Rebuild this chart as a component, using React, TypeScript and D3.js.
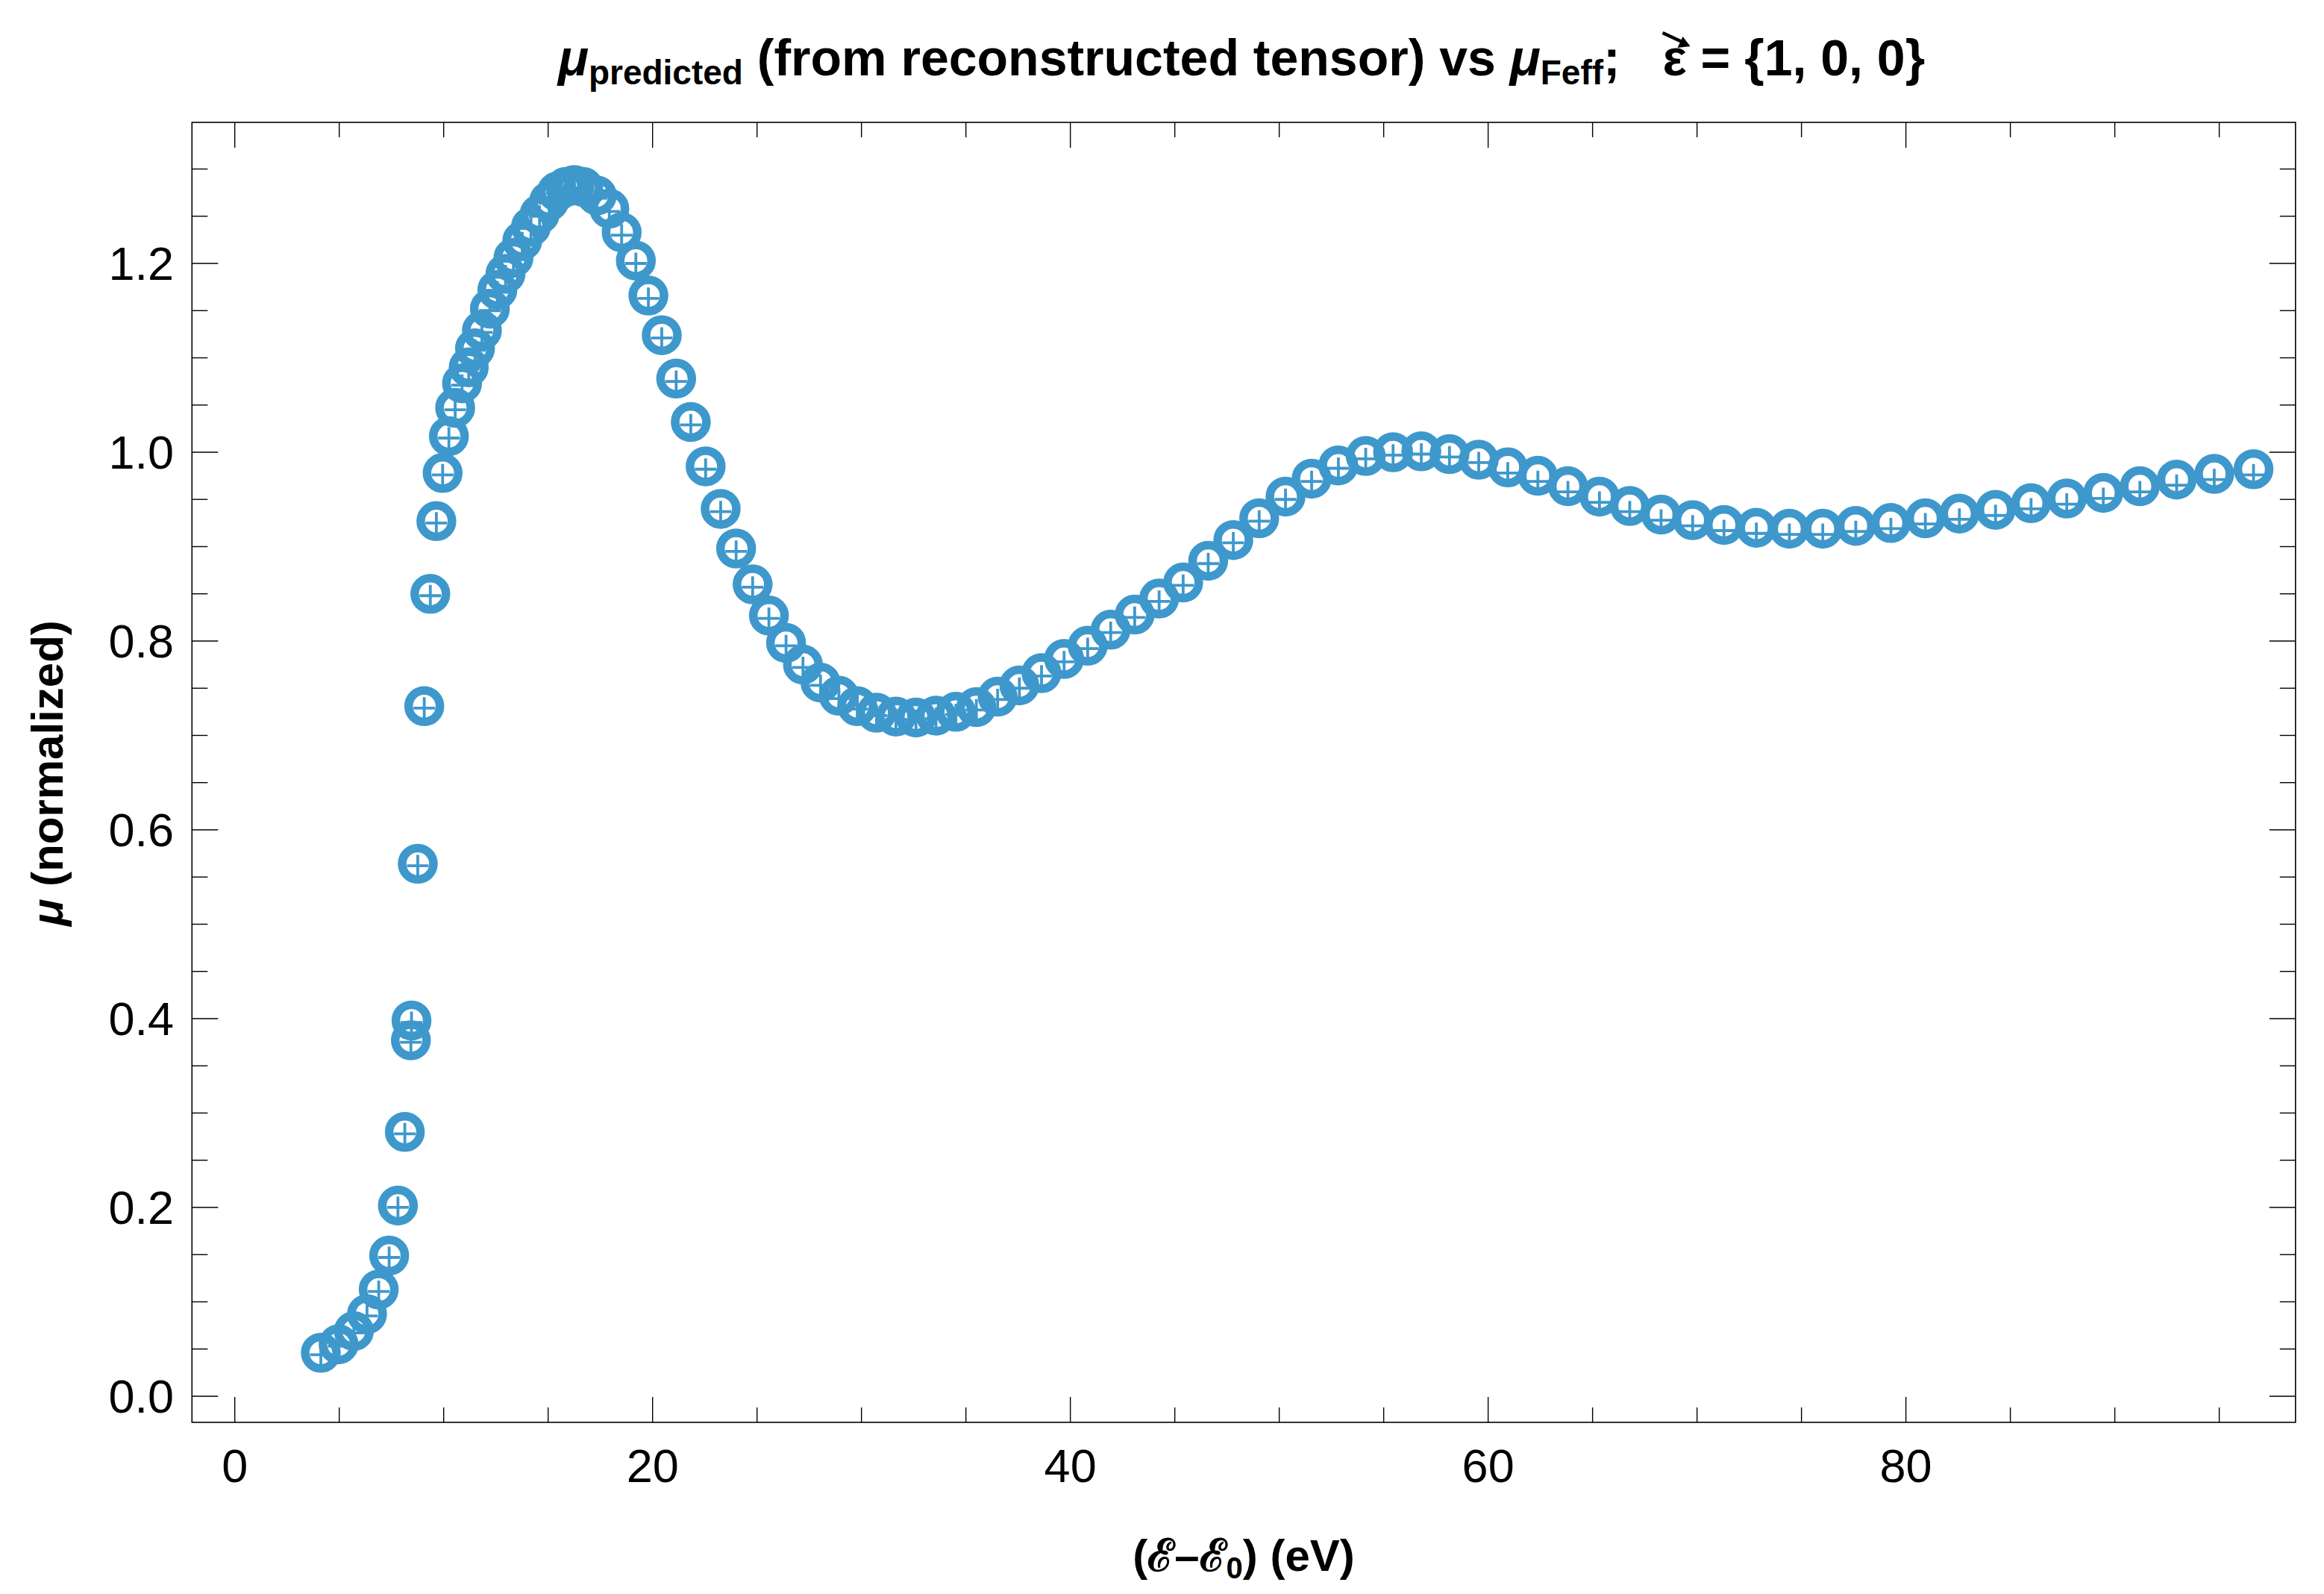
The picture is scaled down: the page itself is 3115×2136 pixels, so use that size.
import React, { useEffect, useRef } from 'react'
import * as d3 from 'd3'

// photon energy above edge (eV)
const energy = [
  4.12, 4.97, 5.70, 6.33, 6.89, 7.39, 7.81, 8.14, 8.43, 8.46,
  8.76, 9.07, 9.36, 9.65, 9.95, 10.25, 10.55, 10.88, 11.2, 11.5,
  11.83, 12.21, 12.57, 12.96, 13.34, 13.76, 14.18, 14.59, 15.05, 15.43,
  15.84, 16.26, 16.68, 17.33, 17.93, 18.52, 19.2, 19.8, 20.44, 21.13,
  21.83, 22.54, 23.26, 24.0, 24.79, 25.57, 26.39, 27.2, 28.04, 28.92,
  29.8, 30.72, 31.65, 32.61, 33.57, 34.52, 35.5, 36.52, 37.56, 38.62,
  39.7, 40.83, 41.93, 43.08, 44.25, 45.4, 46.6, 47.8, 49.04, 50.3,
  51.55, 52.83, 54.14, 55.45, 56.8, 58.15, 59.55, 60.94, 62.38, 63.82,
  65.33, 66.78, 68.28, 69.79, 71.29, 72.84, 74.42, 76.02, 77.6, 79.28,
  80.93, 82.56, 84.29, 85.99, 87.7, 89.45, 91.2, 92.96, 94.76, 96.64,
]

// FEFF reference spectrum (open circles)
const muFeff = [
  0.046, 0.055, 0.069, 0.087, 0.113, 0.149, 0.202, 0.280, 0.377, 0.398,
  0.564, 0.731, 0.850, 0.927, 0.978, 1.017, 1.047, 1.073, 1.090, 1.110,
  1.129, 1.152, 1.172, 1.189, 1.206, 1.224, 1.239, 1.252, 1.266, 1.276,
  1.281, 1.283, 1.281, 1.272, 1.258, 1.233, 1.203, 1.166, 1.124, 1.078,
  1.032, 0.985, 0.940, 0.898, 0.860, 0.827, 0.798, 0.775, 0.756, 0.742,
  0.731, 0.724, 0.720, 0.719, 0.721, 0.725, 0.730, 0.741, 0.753, 0.766,
  0.781, 0.795, 0.812, 0.828, 0.845, 0.862, 0.885, 0.907, 0.930, 0.953,
  0.972, 0.986, 0.996, 1.000, 1.001, 0.998, 0.992, 0.984, 0.975, 0.964,
  0.953, 0.943, 0.934, 0.928, 0.923, 0.920, 0.919, 0.919, 0.922, 0.925,
  0.930, 0.935, 0.939, 0.946, 0.951, 0.957, 0.964, 0.971, 0.977, 0.982,
]

// predicted spectrum (crosses)
const muPredicted = [
  0.044, 0.053, 0.067, 0.085, 0.111, 0.147, 0.200, 0.278, 0.375, 0.396,
  0.562, 0.729, 0.848, 0.925, 0.976, 1.015, 1.045, 1.071, 1.088, 1.108,
  1.127, 1.150, 1.170, 1.187, 1.204, 1.222, 1.237, 1.250, 1.264, 1.274,
  1.278, 1.280, 1.278, 1.269, 1.255, 1.230, 1.200, 1.163, 1.121, 1.075,
  1.029, 0.982, 0.937, 0.895, 0.857, 0.824, 0.795, 0.772, 0.753, 0.739,
  0.728, 0.721, 0.717, 0.716, 0.718, 0.722, 0.727, 0.738, 0.750, 0.763,
  0.778, 0.792, 0.809, 0.825, 0.842, 0.859, 0.882, 0.904, 0.927, 0.950,
  0.969, 0.983, 0.993, 0.997, 0.998, 0.995, 0.989, 0.978, 0.969, 0.958,
  0.947, 0.937, 0.928, 0.922, 0.917, 0.914, 0.913, 0.913, 0.916, 0.919,
  0.924, 0.929, 0.933, 0.940, 0.945, 0.951, 0.958, 0.965, 0.971, 0.976,
]

const xMajorTicks = [0, 20, 40, 60, 80]
const xMinorTicks = [5, 10, 15, 25, 30, 35, 45, 50, 55, 65, 70, 75, 85, 90, 95]
const yMajorTicks = [0, 0.2, 0.4, 0.6, 0.8, 1.0, 1.2]
const yMinorTicks = [0.05, 0.1, 0.15, 0.25, 0.3, 0.35, 0.45, 0.5, 0.55, 0.65, 0.7, 0.75,
  0.85, 0.9, 0.95, 1.05, 1.1, 1.15, 1.25, 1.3]

const W = 3115
const H = 2136
const FONT = "'Liberation Sans', Arial, sans-serif"
const BLUE = '#3e98cc'

const App = () => {
  const svgRef = useRef<SVGSVGElement>(null)

  useEffect(() => {
    const svg: any = d3.select(svgRef.current)
    svg.selectAll('*').remove()

    const left = 257.3, right = 3076.8, top = 164, bottom = 1906
    const x = d3.scaleLinear([-2.05, 98.65], [left, right])
    const y = d3.scaleLinear([-0.0277, 1.3494], [bottom, top])

    // frame
    svg.append('rect')
      .attr('x', left).attr('y', top)
      .attr('width', right - left).attr('height', bottom - top)
      .attr('fill', 'none').attr('stroke', '#000').attr('stroke-width', 1.6)

    const ticks = svg.append('g').attr('stroke', '#000').attr('stroke-width', 1.4)
    const vTick = (v: number, len: number) => {
      ticks.append('line').attr('x1', x(v)).attr('x2', x(v)).attr('y1', bottom).attr('y2', bottom - len)
      ticks.append('line').attr('x1', x(v)).attr('x2', x(v)).attr('y1', top).attr('y2', top + len)
    }
    const hTick = (v: number, len: number) => {
      ticks.append('line').attr('y1', y(v)).attr('y2', y(v)).attr('x1', left).attr('x2', left + len)
      ticks.append('line').attr('y1', y(v)).attr('y2', y(v)).attr('x1', right).attr('x2', right - len)
    }
    xMajorTicks.forEach(v => vTick(v, 34))
    xMinorTicks.forEach(v => vTick(v, 20))
    yMajorTicks.forEach(v => hTick(v, 35))
    yMinorTicks.forEach(v => hTick(v, 21))

    svg.append('g').selectAll('text').data(xMajorTicks).join('text')
      .attr('x', (d: number) => x(d)).attr('y', 1986)
      .attr('text-anchor', 'middle')
      .attr('font-family', FONT).attr('font-size', 63)
      .text((d: number) => d3.format('d')(d))

    svg.append('g').selectAll('text').data(yMajorTicks).join('text')
      .attr('x', 233).attr('y', (d: number) => y(d) + 22)
      .attr('text-anchor', 'end')
      .attr('font-family', FONT).attr('font-size', 63)
      .text((d: number) => d3.format('.1f')(d))

    // data markers
    const pts = energy.map((e, i) => ({ e, f: muFeff[i], p: muPredicted[i] }))
    svg.append('g').selectAll('circle').data(pts).join('circle')
      .attr('cx', (d: any) => x(d.e)).attr('cy', (d: any) => y(d.f))
      .attr('r', 21)
      .attr('fill', 'none').attr('stroke', BLUE).attr('stroke-width', 11.5)
    svg.append('g').selectAll('path').data(pts).join('path')
      .attr('d', (d: any) => {
        const cx = x(d.e), cy = y(d.p), h = 14.5
        return `M${cx - h},${cy}h${2 * h}M${cx},${cy - h}v${2 * h}`
      })
      .attr('fill', 'none').attr('stroke', BLUE).attr('stroke-width', 3.8)

    // title
    const title = svg.append('text')
      .attr('x', 1664).attr('y', 101)
      .attr('text-anchor', 'middle')
      .attr('font-family', FONT).attr('font-size', 68).attr('font-weight', 'bold')
      .style('white-space', 'pre')
    title.append('tspan').attr('font-style', 'italic').text('μ')
    title.append('tspan').attr('font-size', 46).attr('dy', 12).text('predicted')
    title.append('tspan').attr('dy', -12).text(' (from reconstructed tensor) vs ')
    title.append('tspan').attr('font-style', 'italic').text('μ')
    title.append('tspan').attr('font-size', 46).attr('dy', 12).text('Feff')
    title.append('tspan').attr('dy', -12).text(';   ')
    const eps = title.append('tspan').text('ε')
    title.append('tspan').text(' = {1, 0, 0}')

    const node: any = eps.node()
    if (node && node.getExtentOfChar) {
      const ext = node.getExtentOfChar(0)
      const cx = ext.x + ext.width / 2
      svg.append('line')
        .attr('x1', cx - 16).attr('y1', 44).attr('x2', cx + 12).attr('y2', 57)
        .attr('stroke', '#000').attr('stroke-width', 4.5)
      svg.append('path')
        .attr('d', `M${cx + 21},${62} L${cx + 4},${64} L${cx + 11},${49} Z`)
        .attr('fill', '#000')
    }

    // axis labels
    const xl = svg.append('text')
      .attr('x', 1667).attr('y', 2105)
      .attr('text-anchor', 'middle')
      .attr('font-family', FONT).attr('font-size', 60).attr('font-weight', 'bold')
      .style('white-space', 'pre')
    xl.append('tspan').text('(ℰ–ℰ')
    xl.append('tspan').attr('font-size', 40).attr('dy', 10).text('0')
    xl.append('tspan').attr('dy', -10).text(') (eV)')

    const yl = svg.append('text')
      .attr('transform', 'translate(84,1036) rotate(-90)')
      .attr('text-anchor', 'middle')
      .attr('font-family', FONT).attr('font-size', 60).attr('font-weight', 'bold')
      .style('white-space', 'pre')
    yl.append('tspan').attr('font-style', 'italic').text('μ')
    yl.append('tspan').text(' (normalized)')
  }, [])

  return (
    <svg ref={svgRef} width={W} height={H}
      style={{ position: 'absolute', left: 0, top: 0, background: '#fff' }} />
  )
}

export default App
